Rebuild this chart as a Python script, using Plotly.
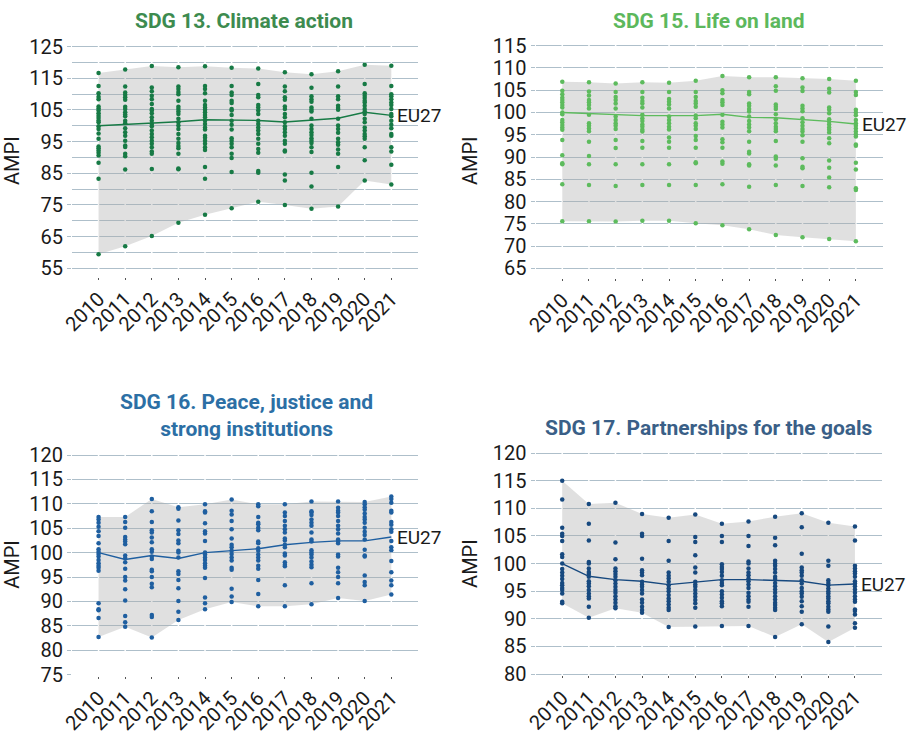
import plotly.graph_objects as go

years = [2010, 2011, 2012, 2013, 2014, 2015, 2016, 2017, 2018, 2019, 2020, 2021]
year_labels = [str(y) for y in years]

titles = ["SDG 13. Climate action", "SDG 15. Life on land",
          "SDG 16. Peace, justice and<br>strong institutions", "SDG 17. Partnerships for the goals"]
eu_label = "EU27"
y_title = "AMPI"

# ---- SDG 13: country values per year ----
sdg13_points = [
    [116.7, 112.6, 110.3, 109.2, 108.4, 106.1, 105.5, 104.8, 104.0, 103.2, 102.5, 101.7, 101.1, 99.9, 99.0, 97.6, 95.9, 93.5, 92.9, 92.2, 91.5, 90.6, 88.3, 83.3, 59.4],
    [117.8, 112.4, 110.5, 109.8, 109.0, 108.2, 106.0, 105.3, 104.3, 103.6, 103.0, 101.6, 100.8, 99.2, 98.0, 96.9, 95.3, 93.8, 93.3, 91.2, 90.4, 86.2, 62.0],
    [118.9, 112.1, 110.9, 109.5, 108.4, 106.9, 105.3, 104.8, 104.0, 102.7, 101.6, 100.6, 99.9, 98.5, 97.4, 96.4, 95.3, 94.3, 93.2, 91.9, 91.2, 86.4, 65.2],
    [118.5, 112.4, 111.6, 110.7, 110.0, 107.9, 106.0, 105.3, 104.5, 103.7, 102.2, 101.1, 100.1, 99.0, 97.4, 95.9, 94.6, 93.6, 92.9, 91.2, 86.5, 86.3, 69.4],
    [118.8, 112.6, 111.6, 110.3, 107.9, 106.6, 105.8, 105.1, 104.3, 103.4, 102.7, 101.6, 100.6, 99.5, 98.8, 96.9, 96.2, 95.3, 94.3, 93.2, 92.4, 87.0, 83.3, 71.9],
    [118.3, 112.6, 110.5, 109.7, 107.9, 107.2, 105.3, 104.8, 103.4, 101.6, 100.3, 98.8, 96.1, 95.3, 94.3, 93.2, 91.2, 89.8, 85.4, 74.0],
    [118.1, 113.2, 109.7, 109.0, 106.6, 105.8, 104.8, 103.7, 101.6, 100.6, 99.5, 98.5, 97.4, 95.9, 94.3, 92.7, 91.5, 85.7, 85.2, 76.0],
    [116.9, 112.4, 110.9, 109.0, 108.2, 106.1, 105.3, 103.7, 102.7, 101.1, 99.9, 99.0, 98.0, 96.9, 95.3, 94.3, 92.2, 91.9, 84.6, 82.7, 75.0],
    [116.3, 112.0, 109.3, 108.4, 107.6, 105.8, 105.1, 104.5, 102.2, 100.1, 99.0, 98.0, 97.1, 96.1, 95.3, 94.6, 93.2, 91.7, 85.2, 80.8, 73.8],
    [117.2, 112.4, 109.3, 108.4, 106.3, 105.6, 105.1, 102.2, 100.1, 99.0, 97.8, 95.9, 94.8, 94.0, 92.5, 91.2, 87.0, 74.5],
    [119.3, 113.2, 110.3, 109.5, 108.8, 107.9, 107.4, 106.3, 105.3, 104.5, 103.7, 102.2, 101.1, 99.5, 98.5, 97.4, 96.7, 95.9, 93.2, 89.1, 82.7],
    [119.0, 112.6, 110.0, 109.3, 108.4, 107.4, 106.6, 105.3, 103.7, 103.0, 101.6, 100.3, 99.2, 97.4, 96.9, 93.2, 91.9, 87.7, 81.5],
]
sdg13_eu = [100.0, 100.4, 100.8, 101.3, 101.9, 101.7, 101.7, 101.2, 101.7, 102.4, 104.3, 103.3]

# ---- SDG 15 ----
sdg15_points = [
    [106.9, 104.9, 104.1, 103.3, 102.8, 102.3, 101.7, 101.1, 100.0, 99.6, 98.3, 97.8, 97.2, 96.6, 96.1, 93.8, 90.4, 88.6, 88.4, 83.9, 75.6],
    [106.8, 104.7, 103.8, 102.8, 102.3, 101.7, 100.9, 99.5, 97.6, 97.0, 96.4, 95.8, 93.4, 90.2, 88.4, 83.7, 75.6],
    [106.5, 104.6, 103.5, 102.8, 102.0, 100.9, 99.1, 98.3, 97.6, 97.0, 96.3, 93.8, 92.0, 88.4, 83.5, 75.5],
    [106.8, 104.6, 103.3, 102.6, 102.0, 101.1, 99.5, 98.7, 98.1, 97.3, 96.8, 96.1, 95.7, 93.6, 92.1, 88.4, 83.7, 75.7],
    [106.7, 104.6, 103.0, 102.4, 101.8, 100.9, 99.1, 98.3, 97.6, 96.8, 96.2, 94.4, 93.4, 92.1, 88.4, 83.7, 75.7],
    [107.1, 104.6, 103.5, 102.6, 102.0, 101.3, 99.3, 98.7, 97.6, 97.0, 96.3, 94.7, 93.8, 92.1, 88.8, 88.6, 83.7, 75.1],
    [108.2, 105.0, 104.3, 102.8, 102.3, 101.7, 99.5, 97.9, 97.3, 96.6, 94.0, 93.3, 92.1, 89.0, 88.5, 83.9, 74.7],
    [107.9, 104.6, 104.1, 102.0, 101.5, 100.8, 100.2, 99.1, 98.1, 97.3, 96.6, 95.8, 93.4, 91.2, 90.8, 88.4, 88.1, 83.3, 73.8],
    [107.9, 105.9, 104.9, 101.8, 101.3, 100.8, 99.6, 98.5, 97.6, 96.8, 96.3, 95.8, 93.6, 90.1, 89.6, 88.1, 83.7, 72.5],
    [107.7, 105.6, 104.8, 101.5, 100.9, 100.3, 98.7, 97.8, 97.0, 96.3, 95.7, 94.9, 93.4, 89.7, 87.8, 87.5, 83.5, 72.0],
    [107.5, 105.3, 104.5, 101.1, 100.6, 99.8, 98.5, 97.9, 97.3, 96.6, 96.1, 95.5, 94.2, 93.1, 89.2, 87.6, 85.4, 83.2, 71.6],
    [107.1, 104.6, 103.9, 100.6, 100.0, 99.4, 98.3, 97.6, 97.0, 96.4, 95.7, 95.1, 94.6, 92.8, 92.5, 88.7, 87.2, 83.0, 82.6, 71.1],
]
sdg15_eu = [100.0, 99.8, 99.5, 99.3, 99.3, 99.3, 99.6, 98.9, 98.8, 98.4, 98.0, 97.4]

# ---- SDG 16 ----
sdg16_points = [
    [107.3, 106.8, 106.1, 105.3, 104.4, 103.4, 101.9, 100.7, 100.2, 99.7, 99.2, 98.5, 97.8, 97.3, 96.9, 96.3, 89.6, 88.4, 88.2, 86.6, 82.7],
    [107.3, 106.3, 105.1, 103.2, 102.7, 102.3, 101.7, 99.4, 98.9, 98.0, 96.7, 95.0, 94.3, 92.5, 90.2, 87.0, 85.7, 84.8],
    [111.0, 108.5, 106.3, 104.6, 104.1, 103.1, 102.1, 100.7, 100.2, 99.2, 98.7, 96.5, 96.2, 95.0, 93.6, 92.9, 87.2, 86.8, 82.6],
    [109.3, 109.0, 106.6, 104.6, 103.8, 102.5, 101.9, 100.4, 100.0, 99.0, 96.2, 95.6, 94.4, 92.7, 90.1, 87.9, 86.2],
    [109.9, 108.5, 108.2, 106.0, 104.4, 103.9, 102.4, 100.0, 99.6, 99.0, 98.5, 97.8, 97.3, 96.9, 94.8, 90.8, 89.6, 88.4],
    [110.9, 108.6, 107.8, 106.5, 104.8, 102.9, 101.6, 101.1, 100.4, 99.7, 99.0, 98.4, 96.9, 96.5, 92.6, 91.0, 89.9],
    [109.9, 109.5, 107.3, 106.1, 105.8, 105.1, 104.6, 102.3, 101.9, 100.9, 100.4, 99.6, 99.0, 98.4, 97.3, 96.7, 94.4, 91.5, 89.0],
    [109.9, 108.2, 107.5, 106.5, 105.5, 104.8, 104.1, 102.9, 102.5, 101.6, 101.1, 99.8, 99.4, 98.0, 97.5, 97.2, 93.3, 89.0],
    [110.5, 108.5, 108.2, 107.7, 106.8, 106.1, 105.5, 104.1, 102.7, 102.3, 100.5, 100.0, 99.6, 99.0, 98.2, 97.5, 97.0, 93.7, 89.4],
    [110.5, 109.2, 108.6, 108.2, 107.5, 106.5, 105.5, 104.8, 103.9, 102.7, 102.3, 101.9, 99.6, 99.2, 96.9, 96.0, 95.0, 93.7, 90.7],
    [110.4, 109.9, 109.3, 108.8, 108.0, 107.3, 106.8, 106.1, 105.1, 104.3, 103.6, 102.7, 100.6, 99.4, 99.2, 95.3, 94.0, 93.3, 90.1],
    [111.5, 111.0, 110.2, 108.6, 108.2, 106.3, 105.7, 104.8, 104.3, 102.4, 101.1, 100.5, 98.3, 96.0, 94.3, 93.3, 91.4],
]
sdg16_eu = [100.0, 98.6, 99.4, 98.8, 100.0, 100.4, 100.8, 101.6, 102.1, 102.4, 102.4, 103.2]

# ---- SDG 17 ----
sdg17_points = [
    [115.0, 111.6, 106.5, 105.4, 105.0, 104.1, 101.7, 101.2, 100.0, 99.0, 98.4, 97.8, 97.2, 96.5, 96.1, 95.6, 95.2, 94.6, 93.1, 92.8],
    [110.8, 107.2, 104.2, 100.3, 100.0, 99.1, 98.5, 98.1, 97.6, 96.8, 96.4, 95.9, 95.2, 94.6, 94.1, 93.7, 92.2, 90.2],
    [111.0, 103.8, 100.8, 99.1, 98.6, 98.1, 97.6, 97.0, 96.4, 95.8, 95.2, 94.7, 94.1, 93.5, 92.9, 92.3, 91.9],
    [109.0, 105.4, 105.0, 100.9, 98.8, 98.4, 97.9, 96.7, 96.2, 95.8, 95.2, 94.6, 93.5, 92.9, 92.2, 91.6, 91.1],
    [108.3, 104.1, 100.5, 98.4, 97.8, 97.3, 96.7, 96.1, 95.5, 95.0, 94.3, 93.7, 93.2, 92.6, 92.0, 91.6, 88.5],
    [108.9, 104.8, 103.9, 101.5, 99.3, 98.4, 96.7, 96.2, 95.8, 95.2, 94.6, 94.0, 93.4, 92.8, 92.0, 88.6],
    [107.2, 105.0, 103.9, 99.9, 99.4, 99.0, 98.5, 97.8, 97.0, 96.5, 96.1, 95.0, 94.4, 93.8, 93.2, 92.8, 92.3, 88.7],
    [107.6, 105.0, 103.2, 100.4, 100.0, 99.1, 98.4, 97.9, 97.3, 96.8, 96.2, 95.6, 94.7, 94.1, 93.5, 93.1, 92.2, 88.7],
    [108.5, 104.7, 103.3, 100.5, 100.0, 99.6, 99.0, 98.4, 97.6, 97.2, 96.5, 95.9, 95.3, 94.7, 94.1, 93.5, 92.9, 92.5, 92.0, 91.6, 86.7],
    [109.1, 106.6, 101.8, 99.3, 98.8, 98.4, 97.8, 97.0, 96.4, 95.6, 95.0, 94.6, 94.0, 93.2, 92.3, 91.3, 89.0],
    [107.4, 100.5, 99.6, 97.0, 96.5, 96.1, 95.5, 95.0, 94.6, 94.1, 93.7, 93.2, 92.8, 92.2, 91.7, 91.3, 88.6, 85.8],
    [106.7, 104.2, 99.6, 99.1, 98.6, 98.2, 97.6, 96.8, 96.4, 95.9, 95.3, 94.7, 94.1, 93.5, 93.1, 91.7, 91.4, 90.8, 89.2, 88.4],
]
sdg17_eu = [100.0, 97.7, 97.1, 96.8, 96.2, 96.6, 97.1, 97.1, 97.0, 96.8, 96.1, 96.3]

panels_points = [sdg13_points, sdg15_points, sdg16_points, sdg17_points]
panels_eu = [sdg13_eu, sdg15_eu, sdg16_eu, sdg17_eu]

# ---- layout in figure pixels (everything kept inside the 912x737 figure) ----
W, H = 912, 737


def px_x(p):
    return p / W


def px_y(p):
    return 1 - p / H


title_colors = ["#3d8b4f", "#5cb85c", "#2c6fa5", "#3a5f87"]
point_colors = ["#177a45", "#5dbb5d", "#1f5fa0", "#17497f"]
y_ranges = [[52.4, 125.6], [62.9, 115.4], [74.8, 120.3], [79.8, 120.2]]
y_tick0 = [55, 65, 75, 80]
y_dtick = [10, 5, 5, 5]
x_px = [(61.7, 411.9), (531.0, 882.2), (61.7, 411.9), (531.0, 881.2)]
y_px = [(34.8, 273.7), (33.9, 274.9), (456.2, 685.0), (454.6, 684.6)]
title_px = [(236.3, 10.0), (706.6, 10.0), (238.3, 417.1), (706.6, 429.9)]

FONT = "Roboto, Arial, sans-serif"
GRID = "#aebfca"

fig = go.Figure()
annotations = []

for i in range(4):
    xa = "x" if i == 0 else f"x{i+1}"
    ya = "y" if i == 0 else f"y{i+1}"
    pts = panels_points[i]
    eu = panels_eu[i]
    lo = [min(v) for v in pts]
    hi = [max(v) for v in pts]

    # white vertical grid at each year, drawn over the horizontal grid
    vx, vy = [], []
    for yr in years:
        vx += [yr, yr, None]
        vy += [y_ranges[i][0], y_ranges[i][1], None]
    fig.add_trace(go.Scatter(x=vx, y=vy, mode="lines", line=dict(color="white", width=1.5),
                             xaxis=xa, yaxis=ya, showlegend=False, hoverinfo="skip"))

    # min-max band
    fig.add_trace(go.Scatter(x=years, y=hi, mode="lines", line=dict(width=0),
                             xaxis=xa, yaxis=ya, showlegend=False, hoverinfo="skip"))
    fig.add_trace(go.Scatter(x=years, y=lo, mode="lines", line=dict(width=0),
                             fill="tonexty", fillcolor="rgba(170,170,170,0.36)",
                             xaxis=xa, yaxis=ya, showlegend=False, hoverinfo="skip"))
    # country points
    px, py = [], []
    for yr, vals in zip(years, pts):
        px += [yr] * len(vals)
        py += vals
    fig.add_trace(go.Scatter(x=px, y=py, mode="markers",
                             marker=dict(size=4.5, color=point_colors[i]),
                             xaxis=xa, yaxis=ya, showlegend=False))
    # EU27 line
    fig.add_trace(go.Scatter(x=years, y=eu, mode="lines",
                             line=dict(width=1.4, color=point_colors[i]),
                             xaxis=xa, yaxis=ya, showlegend=False))
    annotations.append(dict(x=years[-1], y=eu[-1], xref=xa, yref=ya, text=eu_label,
                            showarrow=False, xanchor="left", yanchor="middle", xshift=4,
                            font=dict(family=FONT, size=19, color="#1a1a1a")))
    # panel title
    annotations.append(dict(x=px_x(title_px[i][0]), y=px_y(title_px[i][1]),
                            xref="paper", yref="paper",
                            text="<b>" + titles[i] + "</b>", showarrow=False,
                            xanchor="center", yanchor="middle",
                            font=dict(family=FONT, size=21, color=title_colors[i])))

    axis_x = dict(domain=[px_x(x_px[i][0]), px_x(x_px[i][1])],
                  range=[years[0] - 1, years[-1] + 1],
                  tickmode="array", tickvals=years, ticktext=year_labels,
                  tickangle=-45, showgrid=False, zeroline=False, showline=False,
                  ticks="outside", ticklen=2, tickwidth=1, tickcolor="#555",
                  tickfont=dict(family=FONT, size=20, color="#1a1a1a"),
                  anchor=ya, fixedrange=True)
    axis_y = dict(domain=[px_y(y_px[i][1]), px_y(y_px[i][0])],
                  range=y_ranges[i], tick0=y_tick0[i], dtick=y_dtick[i],
                  showgrid=True, gridcolor=GRID, gridwidth=1.3, zeroline=False, showline=False,
                  ticks="outside", ticklen=4, tickwidth=1, tickcolor=GRID,
                  tickfont=dict(family=FONT, size=20, color="#1a1a1a"),
                  title=dict(text=y_title, font=dict(family=FONT, size=20, color="#1a1a1a"), standoff=9),
                  anchor=xa, fixedrange=True)
    if i == 0:
        axis_y["minor"] = dict(dtick=5, tick0=55, showgrid=True, gridcolor=GRID, gridwidth=1.3)
    key = "" if i == 0 else str(i + 1)
    fig.update_layout(**{f"xaxis{key}": axis_x, f"yaxis{key}": axis_y})

fig.update_layout(width=W, height=H, margin=dict(l=0, r=0, t=0, b=0),
                  paper_bgcolor="white", plot_bgcolor="white",
                  annotations=annotations, showlegend=False,
                  font=dict(family=FONT))

fig.write_html("out.html", config={"displayModeBar": False},
               post_script="document.body.style.margin='0';document.body.style.overflow='hidden';")
